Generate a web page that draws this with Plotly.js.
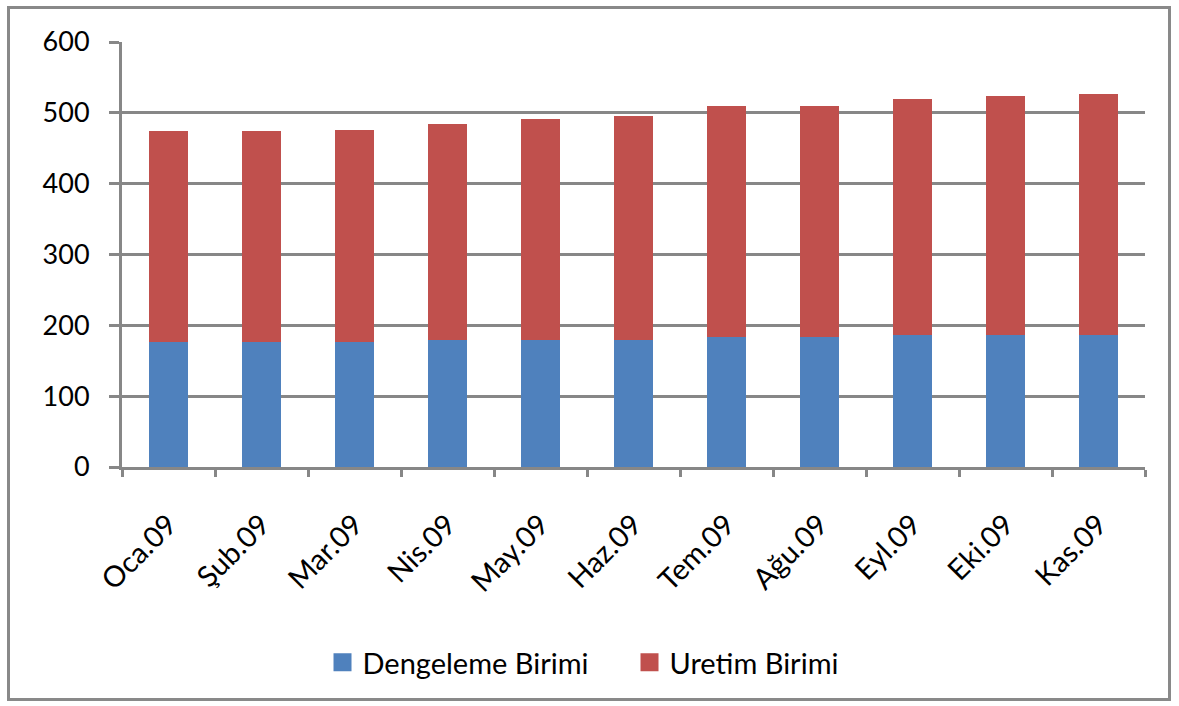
<!DOCTYPE html>
<html>
<head>
<meta charset="utf-8">
<script src="https://cdn.plot.ly/plotly-3.0.1.min.js"></script>
<style>
html,body{margin:0;padding:0;background:#fff;}
#chart{position:absolute;left:0;top:0;width:1179px;height:706px;}
#frame{position:absolute;left:7px;top:6px;width:1164px;height:695px;box-sizing:border-box;border:3px solid #898989;pointer-events:none;}
</style>
</head>
<body>
<div id="chart"></div>
<div id="frame"></div>
<script>
const categories = ["Oca.09","Şub.09","Mar.09","Nis.09","May.09","Haz.09","Tem.09","Ağu.09","Eyl.09","Eki.09","Kas.09"];
const dengeleme = [176,176,176,179,179,179,184,184,187,187,187];
const uretim = [298,298,300,305,312,316,325,325,333,337,340];
const yTicks = [0,100,200,300,400,500,600];

const gridCol = '#878787';
const fontFam = 'Lato, "Open Sans", sans-serif';

const data = [
  {type:'bar', name:'Dengeleme Birimi', x:categories, y:dengeleme,
   marker:{color:'#4F81BD', line:{width:0}}},
  {type:'bar', name:'Uretim Birimi', x:categories, y:uretim,
   marker:{color:'#C0504D', line:{width:0}}}
];

const layout = {
  width:1179, height:706,
  margin:{l:122, r:34, t:42, b:239, pad:0},
  paper_bgcolor:'#fff', plot_bgcolor:'#fff',
  barmode:'stack', bargap:0.58,
  font:{family:fontFam, color:'#000', size:26},
  showlegend:true,
  legend:{orientation:'h', x:0.196, xanchor:'left', y:-0.46, yanchor:'middle',
          font:{size:29, family:fontFam}, entrywidth:262, entrywidthmode:'pixels',
          traceorder:'normal'},
  xaxis:{type:'category', showline:true, linecolor:gridCol, linewidth:3,
         ticks:'outside', tickson:'boundaries', ticklen:7, tickwidth:3, tickcolor:gridCol,
         tickangle:-45, tickfont:{size:29, family:fontFam}, showgrid:false,
         ticklabelstandoff:26},
  yaxis:{range:[0,600], tickvals:yTicks, ticktext:yTicks.map(String),
         showline:true, linecolor:gridCol, linewidth:3,
         showgrid:true, gridcolor:gridCol, gridwidth:3,
         ticks:'outside', ticklen:10, tickwidth:3, tickcolor:gridCol,
         tickfont:{size:27, family:fontFam}, ticklabelstandoff:14, zeroline:false}
};

function bigSymbols(){
  document.querySelectorAll('.legendpoints path').forEach(function(p){
    p.setAttribute('d','M9,9H-9V-9H9Z');
  });
}
Plotly.newPlot('chart', data, layout, {displayModeBar:false, staticPlot:true}).then(function(gd){
  bigSymbols();
  gd.on('plotly_afterplot', bigSymbols);
});
</script>
</body>
</html>
